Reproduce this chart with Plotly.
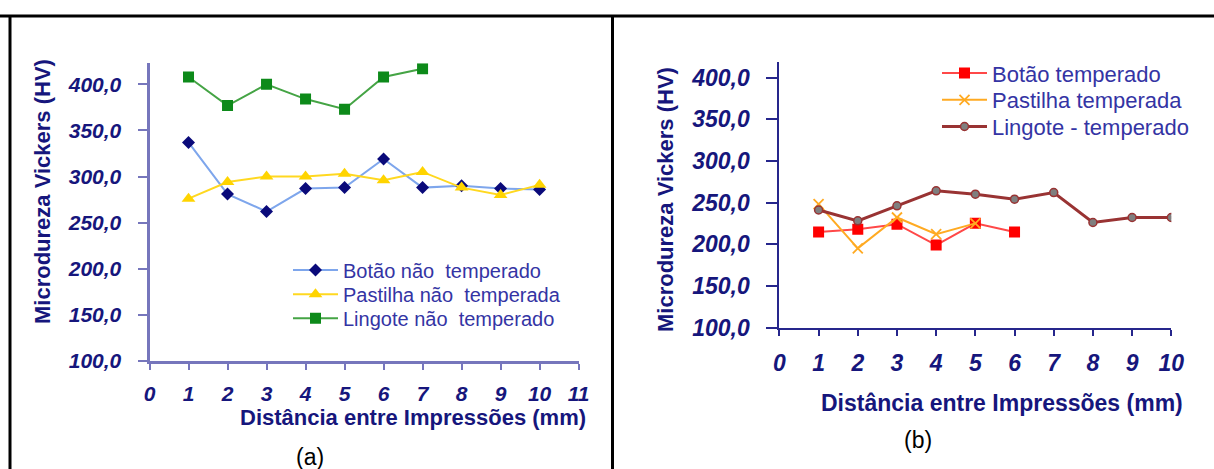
import plotly.graph_objects as go

W, H = 1214, 469

# ---------------- data ----------------
x_a = [1, 2, 3, 4, 5, 6, 7, 8, 9, 10]
botao_nt = [337, 281, 262, 287, 288, 319, 288, 290, 287, 286]
pastilha_nt = [276, 294, 300, 300, 303, 296, 305, 288, 280, 291]
x_lingote_nt = [1, 2, 3, 4, 5, 6, 7]
lingote_nt = [408, 377, 400, 384, 373, 408, 417]

x_botao_t = [1, 2, 3, 4, 5, 6]
botao_t = [214.5, 218, 224, 199, 225, 214.5]
x_pastilha_t = [1, 2, 3, 4, 5]
pastilha_t = [248, 195, 232, 212, 225]
x_lingote_t = [1, 2, 3, 4, 5, 6, 7, 8, 9, 10]
lingote_t = [241, 228, 246, 264, 260, 254, 262, 226, 232, 232]

y_ticks = [100, 150, 200, 250, 300, 350, 400]
x_ticks_a = list(range(0, 12))
x_ticks_b = list(range(0, 11))

names_a = ["Botão não  temperado", "Pastilha não  temperada", "Lingote não  temperado"]
names_b = ["Botão temperado", "Pastilha temperada", "Lingote - temperado"]
y_title = "Microdureza Vickers (HV)"
x_title = "Distância entre Impressões (mm)"

def px(x):
    return x / W

def py(y):
    return 1 - y / H

NAVY = "#16167c"
LEG_TXT = "#3434a4"
FONT = "Liberation Sans, Arial, sans-serif"

fig = go.Figure()

# Panel (a)
fig.add_trace(go.Scatter(x=x_a, y=botao_nt, name=names_a[0], mode="lines+markers",
                         line=dict(color="#7ea6ec", width=2),
                         marker=dict(symbol="diamond", size=10, color="#0a0a7a"),
                         xaxis="x", yaxis="y", legend="legend"))
fig.add_trace(go.Scatter(x=x_a, y=pastilha_nt, name=names_a[1], mode="lines+markers",
                         line=dict(color="#ffd820", width=2),
                         marker=dict(symbol="triangle-up", size=12, color="#ffd400"),
                         xaxis="x", yaxis="y", legend="legend2"))
fig.add_trace(go.Scatter(x=x_lingote_nt, y=lingote_nt, name=names_a[2], mode="lines+markers",
                         line=dict(color="#45a445", width=2),
                         marker=dict(symbol="square", size=11, color="#0d8a1a"),
                         xaxis="x", yaxis="y", legend="legend3"))

# Panel (b)
fig.add_trace(go.Scatter(x=x_botao_t, y=botao_t, name=names_b[0], mode="lines+markers",
                         line=dict(color="#ff4848", width=2),
                         marker=dict(symbol="square", size=11, color="#ff0000"),
                         xaxis="x2", yaxis="y2", legend="legend4"))
fig.add_trace(go.Scatter(x=x_pastilha_t, y=pastilha_t, name=names_b[1], mode="lines+markers",
                         line=dict(color="#ffaa22", width=2),
                         marker=dict(symbol="x-thin-open", size=10,
                                     line=dict(color="#8b2a2a", width=1.8)),
                         xaxis="x2", yaxis="y2", legend="legend5"))
fig.add_trace(go.Scatter(x=x_lingote_t, y=lingote_t, name=names_b[2], mode="lines+markers",
                         line=dict(color="#993333", width=3),
                         marker=dict(symbol="circle", size=8, color="#7f7f7f",
                                     line=dict(color="#993333", width=1.5)),
                         xaxis="x2", yaxis="y2", legend="legend6"))

tick_font_a = dict(family=FONT, size=21, color=NAVY, weight="bold", style="italic")
tick_font_b = dict(family=FONT, size=23, color=NAVY, weight="bold", style="italic")

AX_A = "#7676bc"
AX_B = "#26268c"

layout = dict(
    width=W, height=H,
    margin=dict(l=0, r=0, t=0, b=0, autoexpand=False),
    paper_bgcolor="white", plot_bgcolor="white",
    separators=",.",
    xaxis=dict(domain=[px(149.5), px(578.6)], range=[0, 11], anchor="y",
               tickvals=x_ticks_a, tickformat="d",
               showline=True, linecolor=AX_A, linewidth=3,
               ticks="outside", ticklen=6, tickwidth=2, tickcolor=AX_A,
               showgrid=False, zeroline=False, tickfont=tick_font_a,
               ticklabelstandoff=6),
    yaxis=dict(domain=[py(361), py(63.3)], range=[100, 422.8], anchor="x",
               tickvals=y_ticks, tickformat=".1f",
               showline=True, linecolor=AX_A, linewidth=3,
               ticks="outside", ticklen=9, tickwidth=2, tickcolor=AX_A,
               showgrid=False, zeroline=False, tickfont=tick_font_a,
               ticklabelstandoff=12),
    xaxis2=dict(domain=[px(779.4), px(1171.3)], range=[0, 10], anchor="y2",
                tickvals=x_ticks_b, tickformat="d",
                showline=True, linecolor=AX_B, linewidth=2,
                ticks="outside", ticklen=6, tickwidth=2, tickcolor=AX_B,
                showgrid=False, zeroline=False, tickfont=tick_font_b,
                ticklabelstandoff=8),
    yaxis2=dict(domain=[py(327.5), py(61.7)], range=[100, 419], anchor="x2",
                tickvals=y_ticks, tickformat=".1f",
                showline=True, linecolor=AX_B, linewidth=2,
                ticks="outside", ticklen=11, tickwidth=2, tickcolor=AX_B,
                showgrid=False, zeroline=False, tickfont=tick_font_b,
                ticklabelstandoff=12),
    showlegend=True,
)

def leg(xp, yp, size):
    return dict(x=px(xp), y=py(yp), xanchor="left", yanchor="middle",
                bgcolor="rgba(0,0,0,0)", borderwidth=0, itemwidth=45,
                font=dict(family=FONT, size=size, color=LEG_TXT),
                itemclick=False, itemdoubleclick=False)

layout["legend"] = leg(288, 270, 20)
layout["legend2"] = leg(288, 294.3, 20)
layout["legend3"] = leg(288, 318.3, 20)
layout["legend4"] = leg(937, 73.3, 22)
layout["legend5"] = leg(937, 100, 22)
layout["legend6"] = leg(937, 126.7, 22)

fig.update_layout(**layout)

title_font_a = dict(family=FONT, size=22, color=NAVY, weight="bold")
title_font_b = dict(family=FONT, size=23, color=NAVY, weight="bold")

ann = [
    dict(text=y_title, x=px(42), y=py(192), textangle=-90, font=title_font_a),
    dict(text=x_title, x=px(413), y=py(417), font=title_font_a),
    dict(text=y_title, x=px(666), y=py(199), textangle=-90, font=title_font_a),
    dict(text=x_title, x=px(1002), y=py(402.5), font=title_font_b),
    dict(text="(a)", x=px(310), y=py(457), font=dict(family=FONT, size=23, color="black")),
    dict(text="(b)", x=px(918), y=py(440), font=dict(family=FONT, size=23, color="black")),
]
for a in ann:
    a.update(xref="paper", yref="paper", showarrow=False, xanchor="center", yanchor="middle")
    fig.add_annotation(**a)

# table frame lines
for x0, y0, x1, y1 in [(0, 16, W, 16), (10, 16, 10, H), (612.5, 16, 612.5, H)]:
    fig.add_shape(type="line", xref="paper", yref="paper",
                  x0=px(x0), y0=py(y0), x1=px(x1), y1=py(y1),
                  line=dict(color="black", width=3))

fig.write_html("out.html", config={"displayModeBar": False},
               post_script="document.body.style.margin='0';document.body.style.padding='0';"
                           "document.body.style.overflow='hidden';")
